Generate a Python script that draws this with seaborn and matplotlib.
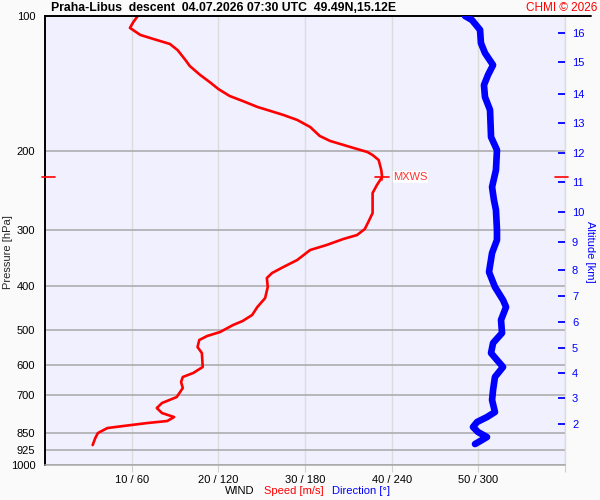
import numpy as np
import pandas as pd
import matplotlib
matplotlib.use("Agg")
import matplotlib.pyplot as plt
import matplotlib.transforms as mtransforms
from matplotlib.ticker import NullLocator, FixedLocator, FixedFormatter
import seaborn as sns

# ---------------- data ----------------
speed_ms = [10.7, 10.2, 9.8, 11.0, 12.5, 14.4, 15.3, 16.2, 16.7, 17.9, 19.0, 20.0,
            21.3, 22.8, 24.5, 26.0, 27.5, 29.1, 30.6, 31.7, 32.9, 35.2, 37.2, 37.8,
            38.5, 38.8, 38.9, 38.3, 37.8, 37.8, 37.3, 36.9, 36.0, 34.4, 32.5, 30.6,
            29.1, 27.5, 26.2, 25.6, 25.7, 25.4, 24.5, 23.9, 22.8, 21.7, 20.2, 18.7,
            17.8, 17.6, 18.1, 18.2, 17.1, 15.9, 15.7, 15.9, 15.2, 13.5, 12.9, 13.5,
            14.9, 14.1, 11.8, 9.0, 7.2, 6.1, 5.8, 5.5]
speed_press = [100.0, 103.1, 106.3, 110.2, 112.5, 115.4, 119.1, 125.3, 129.2, 135.3,
               140.3, 145.4, 150.7, 154.6, 159.4, 162.7, 166.1, 170.4, 176.7, 185.0,
               189.8, 195.7, 200.9, 204.0, 209.3, 220.3, 228.4, 237.9, 247.9, 274.7,
               287.7, 298.2, 307.5, 313.9, 323.6, 332.0, 349.5, 362.3, 373.6, 383.3,
               401.4, 424.8, 444.8, 463.4, 477.9, 487.8, 505.6, 516.1, 526.8, 546.1,
               563.2, 604.9, 623.9, 636.8, 653.3, 673.8, 705.7, 727.7, 746.6, 766.1,
               782.0, 798.1, 806.4, 818.9, 827.4, 848.9, 871.0, 902.8]

dir_deg = [290.8, 295.6, 301.2, 301.8, 304.6, 310.2, 306.7, 303.9, 304.6, 308.1,
           308.8, 312.9, 312.2, 309.5, 310.8, 312.2, 312.9, 312.9, 309.5, 307.4,
           311.5, 317.1, 319.2, 315.7, 316.4, 310.2, 308.8, 312.9, 317.1, 311.5,
           310.2, 309.5, 311.5, 306.0, 299.1, 296.3, 299.8, 306.0, 302.5, 297.7]
dir_press = [100.0, 102.1, 107.4, 114.9, 120.9, 128.6, 135.3, 142.5, 151.5, 161.9,
             186.0, 198.8, 220.3, 240.4, 256.9, 270.4, 299.7, 315.4, 337.2, 371.7,
             401.4, 429.1, 444.8, 475.4, 508.2, 534.9, 563.2, 583.6, 604.9, 636.8,
             680.7, 716.6, 762.1, 782.0, 802.2, 823.1, 844.6, 866.4, 879.9, 898.1]

pressure_ticks = [100, 200, 300, 400, 500, 600, 700, 850, 925, 1000]
speed_ticks = [10, 20, 30, 40, 50, 60]
dir_ticks = [60, 120, 180, 240, 300, 360]
alt_km = [2, 3, 4, 5, 6, 7, 8, 9, 10, 11, 12, 13, 14, 15, 16]
alt_press = [810.2, 709.2, 624.1, 548.9, 480.3, 420.4, 367.9, 318.7, 273.3,
             234.3, 201.9, 173.1, 149.2, 126.6, 109.1]
mxws_speed = 38.9
mxws_press = 228.4

title = "Praha-Libus  descent  04.07.2026 07:30 UTC  49.49N,15.12E"

# ---------------- style ----------------
sns.set_style("white")
plt.rcParams['font.family'] = ['Liberation Sans', 'DejaVu Sans']

RED = '#FF0000'
BLUE = '#0000FF'
FS = 8

fig = plt.figure(figsize=(6, 5), dpi=100, facecolor='#FAFAFA')
ax = fig.add_axes([45 / 600, 35 / 500, 520 / 600, 449 / 500])
ax.set_facecolor('#F0F0FF')
ax.set_yscale('log')
ax.set_ylim(1000, 100)
ax.set_xlim(0, 60)

# twin axes (direction on its own x scale, altitude on its own y scale)
axd = ax.twiny()
axa = ax.twinx()

df_speed = pd.DataFrame({'speed': speed_ms, 'pressure': speed_press})
df_dir = pd.DataFrame({'direction': dir_deg, 'pressure': dir_press})

sns.lineplot(data=df_speed, x='speed', y='pressure', sort=False, estimator=None,
             color=RED, lw=1.9, ax=ax, zorder=4)
for ln in ax.lines:
    ln.set_solid_joinstyle('round')
    ln.set_solid_capstyle('round')
sns.lineplot(data=df_dir, x='direction', y='pressure', sort=False, estimator=None,
             color=BLUE, lw=4.8, ax=axd, zorder=5)
for ln in axd.lines:
    ln.set_solid_capstyle('round')
    ln.set_solid_joinstyle('round')

# ---- main axis formatting ----
ax.set_xlim(0, 60)
ax.set_ylim(1000, 100)
ax.yaxis.set_major_locator(FixedLocator(pressure_ticks))
ax.yaxis.set_major_formatter(FixedFormatter([str(p) for p in pressure_ticks]))
ax.yaxis.set_minor_locator(NullLocator())
ax.xaxis.set_major_locator(FixedLocator(speed_ticks))
ax.xaxis.set_major_formatter(FixedFormatter(
    [f"{s} / {d}" if s < 60 else "" for s, d in zip(speed_ticks, dir_ticks)]))
ax.set_xlabel('')
ax.set_ylabel('')

ax.grid(False)
ax.yaxis.grid(True, color='#A8A8A8', lw=1.1)
ax.xaxis.grid(True, color='#DCDCDC', lw=1.0)
ax.set_axisbelow(True)

ax.tick_params(axis='y', which='both', length=0, pad=7, labelsize=FS, colors='black')
ax.tick_params(axis='x', length=5, color='#D0D0D0', labelsize=FS, pad=2, labelcolor='black')

ax.spines['top'].set_visible(False)
ax.spines['left'].set_color('black')
ax.spines['left'].set_linewidth(1.4)
ax.spines['bottom'].set_color('#A8A8A8')
ax.spines['bottom'].set_linewidth(1.1)
ax.spines['right'].set_color('#DCDCDC')
ax.spines['right'].set_linewidth(1.0)

# extended black top line
ax.plot([0, 1.05], [1, 1], transform=ax.transAxes, color='black', lw=1.4,
        clip_on=False, zorder=6)

# ---- direction axis ----
axd.set_xlim(0, 360)
axd.set_xticks([])
axd.set_xlabel('')
axd.set_ylabel('')
for s in axd.spines.values():
    s.set_visible(False)
axd.patch.set_visible(False)

# ---- altitude axis ----
axa.set_yscale('log')
axa.set_ylim(1000, 100)
axa.yaxis.set_major_locator(FixedLocator(alt_press))
axa.yaxis.set_major_formatter(FixedFormatter([str(k) for k in alt_km]))
axa.yaxis.set_minor_locator(NullLocator())
axa.tick_params(axis='y', which='major', direction='in', length=5, width=1.3,
                color=BLUE, labelcolor=BLUE, labelsize=FS, pad=5)
for s in axa.spines.values():
    s.set_visible(False)
axa.patch.set_visible(False)
axa.set_ylabel('')

# ---------------- MXWS marker ----------------
tr = mtransforms.blended_transform_factory(ax.transAxes, ax.transData)
ax.plot([mxws_speed - 0.8, mxws_speed + 0.8], [mxws_press, mxws_press], color=RED, lw=1.2, zorder=7)
ax.plot([mxws_speed, mxws_speed], [mxws_press * 0.985, mxws_press * 1.015], color=RED, lw=1.2, zorder=7)
ax.text(mxws_speed + 1.3, mxws_press, 'MXWS', color='#FF3030', fontsize=FS,
        va='center', ha='left', zorder=7,
        bbox=dict(facecolor='white', edgecolor='none', pad=0.5))
ax.plot([-0.005, 0.02], [mxws_press, mxws_press], transform=tr, color=RED, lw=1.2,
        clip_on=False, zorder=7)
ax.plot([0.98, 1.005], [mxws_press, mxws_press], transform=tr, color=RED, lw=1.2,
        clip_on=False, zorder=7)

# ---------------- texts ----------------
fig.text(51 / 600, 1 - 8 / 500, title, fontsize=8.8, fontweight='bold',
         ha='left', va='center', color='black')
fig.text(597 / 600, 1 - 8 / 500, 'CHMI © 2026', fontsize=8.5, color=RED,
         ha='right', va='center')
fig.text(8 / 600, 1 - 252 / 500, 'Pressure [hPa]', rotation=90, fontsize=FS,
         ha='center', va='center')
fig.text(590 / 600, 1 - 252 / 500, 'Altitude [km]', rotation=270, fontsize=FS,
         color=BLUE, ha='center', va='center')
fig.text(225 / 600, 1 - 491 / 500, 'WIND', fontsize=FS, color='black',
         ha='left', va='center')
fig.text(264 / 600, 1 - 491 / 500, 'Speed [m/s]', fontsize=FS, color=RED,
         ha='left', va='center')
fig.text(332 / 600, 1 - 491 / 500, 'Direction [°]', fontsize=FS, color=BLUE,
         ha='left', va='center')

fig.savefig('out.png', dpi=100, facecolor=fig.get_facecolor())
